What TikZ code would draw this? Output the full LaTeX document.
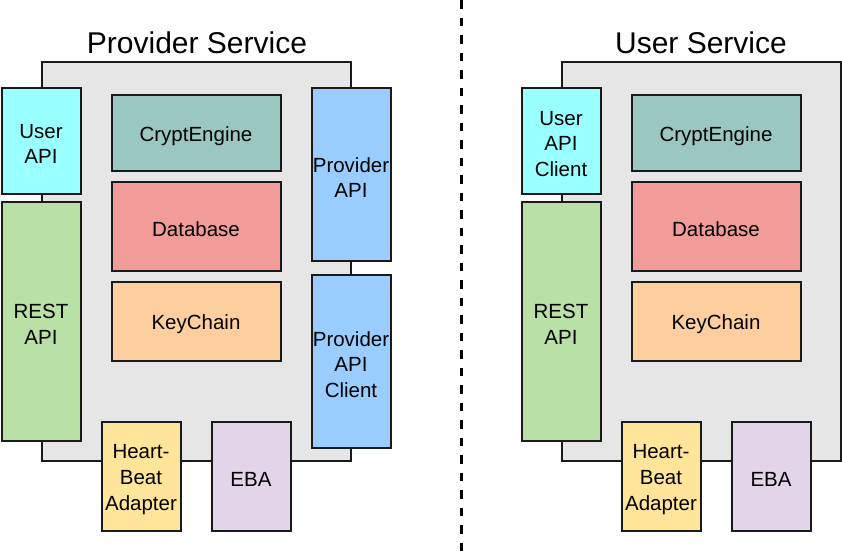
\documentclass[tikz,border=0pt]{standalone}
\usepackage{fontspec}
\setmainfont{Liberation Sans}
\definecolor{grayfill}{HTML}{E6E6E6}
\definecolor{cuser}{HTML}{99FFFF}
\definecolor{crest}{HTML}{B9E0A5}
\definecolor{ccrypt}{HTML}{9AC7BF}
\definecolor{cdb}{HTML}{F19C99}
\definecolor{ckey}{HTML}{FFCE9F}
\definecolor{cprov}{HTML}{99CCFF}
\definecolor{cheart}{HTML}{FFE599}
\definecolor{ceba}{HTML}{E1D5E7}
\definecolor{edge}{HTML}{1A1A1A}
% \compbox{name}{colour}{x}{y}{width}{height}{text}
\newcommand\compbox[7]{%
  \node[comp, fill=#2, minimum width=#5pt, minimum height=#6pt] (#1) at (#3,#4) {};
  \node[lbl] (#1-text) at ([yshift=-3.5pt]#1.center) {#7};}
\begin{document}
\begin{tikzpicture}[x=1pt,y=-1pt,
  comp/.style={draw=edge, line width=2pt, inner sep=0pt, outer sep=0pt},
  lbl/.style={align=center, inner sep=0pt, font=\fontsize{20.5}{25.8}\selectfont},
  svc/.style={draw=edge, line width=2pt, fill=grayfill, inner sep=0pt, outer sep=0pt},
  title/.style={font=\fontsize{30}{35}\selectfont, inner sep=0pt},
  divider/.style={line width=3pt, dash pattern=on 8.5pt off 9pt}]
\useasboundingbox (0,0) rectangle (842,554);
% ---------- Provider Service ----------
\node[svc, minimum width=309pt, minimum height=399pt] (psvc) at (196,261) {};
\node[title, anchor=base] (ptitle) at (197,53) {Provider Service};
\compbox{puser}{cuser}{41}{140.5}{79}{106}{User\\API}
\compbox{prest}{crest}{41}{321}{79}{239}{REST\\API}
\compbox{pcrypt}{ccrypt}{196}{132.5}{169}{76}{CryptEngine}
\compbox{pdb}{cdb}{196}{226}{169}{89}{Database}
\compbox{pkey}{ckey}{196}{321}{169}{79}{KeyChain}
\compbox{pprov}{cprov}{351}{174}{79}{173}{Provider\\API}
\compbox{pprovc}{cprov}{351}{361}{79}{173}{Provider\\API\\Client}
\compbox{pheart}{cheart}{141}{476}{79}{109}{Heart-\\Beat\\Adapter}
\compbox{peba}{ceba}{251}{476}{79}{109}{EBA}
% ---------- divider ----------
\coordinate (dtop) at (461.5,0);
\coordinate (dbot) at (461.5,554);
\draw[divider] (dtop) -- (dbot);
% ---------- User Service ----------
\node[svc, minimum width=279pt, minimum height=399pt] (usvc) at (701,261) {};
\node[title, anchor=base] (utitle) at (701,53) {User Service};
\compbox{uuser}{cuser}{561}{140.5}{79}{106}{User\\API\\Client}
\compbox{urest}{crest}{561}{321}{79}{239}{REST\\API}
\compbox{ucrypt}{ccrypt}{716}{132.5}{169}{76}{CryptEngine}
\compbox{udb}{cdb}{716}{226}{169}{89}{Database}
\compbox{ukey}{ckey}{716}{321}{169}{79}{KeyChain}
\compbox{uheart}{cheart}{661}{476}{79}{109}{Heart-\\Beat\\Adapter}
\compbox{ueba}{ceba}{771}{476}{79}{109}{EBA}
\end{tikzpicture}
\end{document}
